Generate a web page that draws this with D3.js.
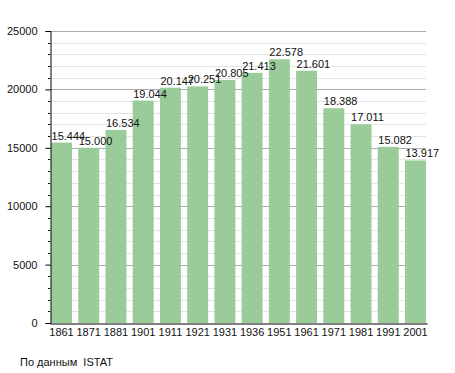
<!DOCTYPE html>
<html>
<head>
<meta charset="utf-8">
<script src="https://cdn.jsdelivr.net/npm/d3@7"></script>
<style>
  body { margin: 0; background: white; }
  text { font-family: "Liberation Sans", Arial, sans-serif; }
</style>
</head>
<body>
<script>
const years = ["1861", "1871", "1881", "1901", "1911", "1921", "1931", "1936", "1951", "1961", "1971", "1981", "1991", "2001"];
const population = [15444, 15000, 16534, 19044, 20147, 20251, 20805, 21413, 22578, 21601, 18388, 17011, 15082, 13917];
const yTicks = [0, 5000, 10000, 15000, 20000, 25000];
const source = "По данным  ISTAT";

const width = 455;
const height = 373;
const plotLeft = 50, plotRight = 427, plotTop = 31, plotBottom = 323;

const svg = d3.select("body")
  .append("svg")
  .attr("width", width)
  .attr("height", height);

svg.append("rect")
  .attr("width", "100%")
  .attr("height", "100%")
  .attr("fill", "white");

const x = d3.scaleBand()
  .domain(years)
  .range([plotLeft, plotRight])
  .paddingInner(0.23)
  .paddingOuter(0.0375);

const y = d3.scaleLinear()
  .domain([0, 25000])
  .range([plotBottom, plotTop]);

// grid: minor every 1000, major every 5000
const minor = d3.range(1000, 25001, 1000).filter(v => v % 5000 !== 0);
svg.append("g")
  .selectAll("line")
  .data(minor)
  .join("line")
  .attr("x1", plotLeft)
  .attr("x2", plotRight - 1)
  .attr("y1", d => Math.round(y(d)) + 0.5)
  .attr("y2", d => Math.round(y(d)) + 0.5)
  .attr("stroke", "#e4e4e4");

svg.append("g")
  .selectAll("line")
  .data(yTicks.filter(v => v > 0))
  .join("line")
  .attr("x1", plotLeft)
  .attr("x2", plotRight - 1)
  .attr("y1", d => Math.round(y(d)) + 0.5)
  .attr("y2", d => Math.round(y(d)) + 0.5)
  .attr("stroke", "#aaaaaa");

// bars
svg.append("g")
  .selectAll("rect")
  .data(population)
  .join("rect")
  .attr("x", (d, i) => x(years[i]))
  .attr("width", x.bandwidth())
  .attr("y", d => y(d))
  .attr("height", d => y(0) - y(d))
  .attr("fill", "#99cc99");

// value labels
svg.append("g")
  .selectAll("text")
  .data(population)
  .join("text")
  .attr("x", (d, i) => x(years[i]) + 0.5)
  .attr("y", d => y(d) - 3)
  .attr("font-size", 11)
  .attr("fill", "#111")
  .text(d => d3.format(",")(d).replace(",", "."));

// y axis
const yAxis = d3.axisLeft(y)
  .tickValues(yTicks)
  .tickSize(5)
  .tickPadding(8)
  .tickFormat(d3.format("d"));
const gy = svg.append("g")
  .attr("transform", "translate(" + (plotLeft + 0.5) + ",0)")
  .call(yAxis);
gy.select(".domain").attr("stroke", "#000");
gy.selectAll("text").attr("font-size", 11).attr("font-family", "Liberation Sans, Arial, sans-serif").attr("fill", "#111");

// minor ticks
svg.append("g")
  .selectAll("line")
  .data(minor)
  .join("line")
  .attr("x1", plotLeft - 2)
  .attr("x2", plotLeft)
  .attr("y1", d => Math.round(y(d)) + 0.5)
  .attr("y2", d => Math.round(y(d)) + 0.5)
  .attr("stroke", "#000");

// x axis
const gx = svg.append("g")
  .attr("transform", "translate(0," + (plotBottom + 0.5) + ")")
  .call(d3.axisBottom(x).tickSize(0).tickSizeOuter(0).tickPadding(5));
gx.select(".domain").attr("stroke", "#000");
gx.selectAll("text").attr("font-size", 11).attr("font-family", "Liberation Sans, Arial, sans-serif").attr("fill", "#111");

// source note
svg.append("text")
  .attr("x", 20)
  .attr("y", 366)
  .attr("font-size", 11)
  .attr("fill", "#111")
  .style("white-space", "pre")
  .text(source);
</script>
</body>
</html>
